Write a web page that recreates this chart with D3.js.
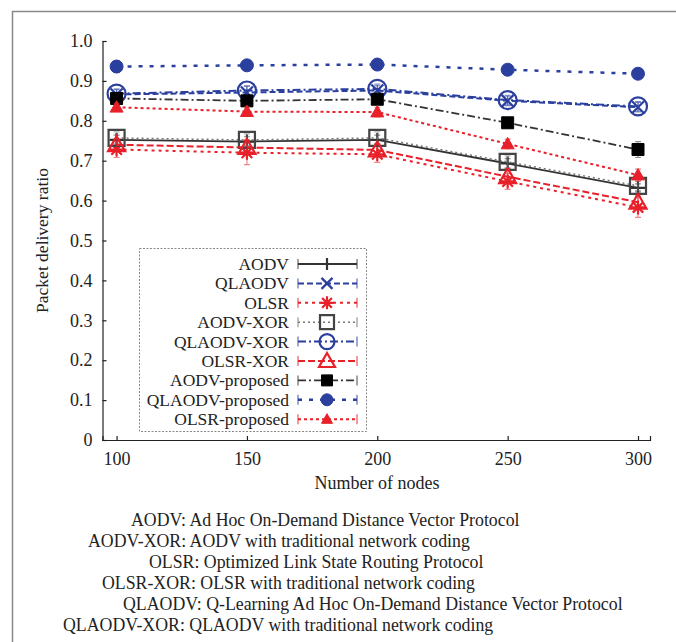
<!DOCTYPE html>
<html>
<head>
<meta charset="utf-8">
<script src="https://cdn.jsdelivr.net/npm/d3@7"></script>
<style>
  body { margin: 0; background: #fff; }
  svg, svg text { font-family: 'Liberation Serif', 'DejaVu Serif', serif; }
  svg text { fill: #222; }
</style>
</head>
<body>
<div id="graf"></div>
<script>
// datos
nodos = [100, 150, 200, 250, 300]
yTicks = [0, 0.1, 0.2, 0.3, 0.4, 0.5, 0.6, 0.7, 0.8, 0.9, 1.0]

aodv        = [0.752, 0.748, 0.752, 0.693, 0.632]
qlaodv      = [0.866, 0.871, 0.876, 0.850, 0.834]
olsr        = [0.728, 0.720, 0.716, 0.648, 0.583]
aodvXor     = [0.757, 0.752, 0.757, 0.697, 0.637]
qlaodvXor   = [0.868, 0.876, 0.880, 0.852, 0.836]
olsrXor     = [0.740, 0.733, 0.727, 0.660, 0.596]
aodvProp    = [0.856, 0.850, 0.854, 0.795, 0.728]
qlaodvProp  = [0.936, 0.939, 0.941, 0.928, 0.918]
olsrProp    = [0.834, 0.823, 0.822, 0.742, 0.664]

// barras de error
errAodv       = [0.012, 0.012, 0.012, 0.012, 0.010]
errQlaodv     = [0.012, 0.015, 0.012, 0.012, 0.012]
errOlsr       = [0.020, 0.030, 0.020, 0.020, 0.025]
errAodvXor    = [0.015, 0.015, 0.015, 0.015, 0.012]
errQlaodvXor  = [0.012, 0.012, 0.012, 0.012, 0.012]
errOlsrXor    = [0.015, 0.020, 0.015, 0.015, 0.015]
errAodvProp   = [0.010, 0.010, 0.010, 0.012, 0.020]
errQlaodvProp = [0.015, 0.010, 0.010, 0.008, 0.008]
errOlsrProp   = [0.010, 0.012, 0.012, 0.012, 0.015]

nombres = ['AODV', 'QLAODV', 'OLSR', 'AODV-XOR', 'QLAODV-XOR', 'OLSR-XOR',
           'AODV-proposed', 'QLAODV-proposed', 'OLSR-proposed']

glosaTerm = ['AODV:', 'AODV-XOR:', 'OLSR:', 'OLSR-XOR:', 'QLAODV:', 'QLAODV-XOR:']
glosaDesc = ['Ad Hoc On-Demand Distance Vector Protocol',
             'AODV with traditional network coding',
             'Optimized Link State Routing Protocol',
             'OLSR with traditional network coding',
             'Q-Learning Ad Hoc On-Demand Distance Vector Protocol',
             'QLAODV with traditional network coding']

// estilos
negro = '#333'
azul = '#2a3f9e'
rojo = '#e8202a'
estilos = {
  'AODV':            { color: negro, dash: null,        ancho: 1.8, marca: 'plus' },
  'QLAODV':          { color: azul,  dash: '6,3',       ancho: 2,   marca: 'x' },
  'OLSR':            { color: rojo,  dash: '3,4',       ancho: 2,   marca: 'asterisk' },
  'AODV-XOR':        { color: '#777', dash: '2,3',      ancho: 1.5, marca: 'square', borde: '#444' },
  'QLAODV-XOR':      { color: azul,  dash: '8,3,2,3',   ancho: 2,   marca: 'circle' },
  'OLSR-XOR':        { color: rojo,  dash: '7,3',       ancho: 2,   marca: 'triangle' },
  'AODV-proposed':   { color: negro, dash: '8,3,2,3',   ancho: 1.8, marca: 'squareF', borde: '#000' },
  'QLAODV-proposed': { color: azul,  dash: '4,7',       ancho: 2.5, marca: 'circleF' },
  'OLSR-proposed':   { color: rojo,  dash: '3,3',       ancho: 2,   marca: 'triangleF' }
}

valores = [aodv, qlaodv, olsr, aodvXor, qlaodvXor, olsrXor, aodvProp, qlaodvProp, olsrProp]
errores = [errAodv, errQlaodv, errOlsr, errAodvXor, errQlaodvXor, errOlsrXor,
           errAodvProp, errQlaodvProp, errOlsrProp]

series = nombres.map((n, i) => ({
  nombre: n,
  puntos: nodos.map((x, j) => ({ x: x, y: valores[i][j], e: errores[i][j] }))
}))

// svg
ancho_total = 676
alto_total = 642
svg = d3.select('#graf').append('svg')
        .attr('width', ancho_total)
        .attr('height', alto_total)

// marco de la figura
svg.append('path')
   .attr('d', `M12.5,${alto_total} V11.5 H${ancho_total}`)
   .attr('fill', 'none')
   .attr('stroke', '#888')
   .attr('stroke-width', 1.5)

// escalas
x = d3.scaleLinear().domain([94.6, 304.6]).range([102.5, 650])
y = d3.scaleLinear().domain([0, 1]).range([440, 41])

// ejes
xAxis = d3.axisBottom(x).tickValues(nodos).tickSizeInner(-4).tickSizeOuter(-4).tickPadding(12)
yAxis = d3.axisLeft(y).tickValues(yTicks).tickSizeInner(-4).tickSizeOuter(-4).tickPadding(10)
        .tickFormat(d => d === 0 ? '0' : d3.format('.1f')(d))

gx = svg.append('g').attr('transform', `translate(0, ${y(0)})`).call(xAxis)
gy = svg.append('g').attr('transform', `translate(${x(94.6)}, 0)`).call(yAxis)
;[gx, gy].forEach(g => {
  g.attr('font-family', null)
  g.selectAll('path, line').attr('stroke', '#222').attr('stroke-width', 1.2)
  g.selectAll('text').style('font-size', '18px').attr('fill', '#222')
})

svg.append('text')
   .attr('x', 377).attr('y', 489)
   .attr('text-anchor', 'middle')
   .style('font-size', '18px')
   .text('Number of nodes')

svg.append('text')
   .attr('transform', `translate(48, ${(y(0) + y(1)) / 2}) rotate(-90)`)
   .attr('text-anchor', 'middle')
   .style('font-size', '17.5px')
   .text('Packet delivery ratio')

// marcadores
function marca(tipo, s) {
  const h = s / 2
  switch (tipo) {
    case 'plus': return `M${-h},0H${h}M0,${-h}V${h}`
    case 'x': return `M${-h},${-h}L${h},${h}M${-h},${h}L${h},${-h}`
    case 'asterisk': return `M${-h},0H${h}M0,${-h}V${h}M${-h * 0.75},${-h * 0.75}L${h * 0.75},${h * 0.75}M${-h * 0.75},${h * 0.75}L${h * 0.75},${-h * 0.75}`
    case 'square': case 'squareF': return `M${-h},${-h}H${h}V${h}H${-h}Z`
    case 'circle': case 'circleF': return `M${h},0A${h},${h} 0 1,1 ${-h},0A${h},${h} 0 1,1 ${h},0Z`
    case 'triangle': case 'triangleF': return `M0,${-h}L${h},${h * 0.75}L${-h},${h * 0.75}Z`
  }
}
tamPlot = { plus: 14, x: 12, asterisk: 14, square: 16, circle: 18, triangle: 17,
            squareF: 12, circleF: 13, triangleF: 13 }
tamLeg = { plus: 12, x: 11, asterisk: 13, square: 14, circle: 15, triangle: 16,
           squareF: 11, circleF: 12, triangleF: 11 }

function dibujaMarca(g, st, s) {
  const relleno = st.marca.endsWith('F')
  const c = st.borde || st.color
  g.append('path')
   .attr('d', marca(st.marca, s))
   .attr('fill', relleno ? c : 'none')
   .attr('stroke', c)
   .attr('stroke-width', relleno ? 1 : 2.2)
}

linea = d3.line().x(d => x(d.x)).y(d => y(d.y))

gSeries = svg.append('g')
series.forEach(s => {
  const st = estilos[s.nombre]
  const g = gSeries.append('g')
  g.append('path')
   .datum(s.puntos)
   .attr('d', linea)
   .attr('fill', 'none')
   .attr('stroke', st.color)
   .attr('stroke-width', st.ancho)
   .attr('stroke-dasharray', st.dash)
  // barras de error
  g.selectAll('.err').data(s.puntos).enter()
   .append('path')
   .attr('d', d => `M${x(d.x) - 3},${y(d.y + d.e)}H${x(d.x) + 3}M${x(d.x)},${y(d.y + d.e)}V${y(d.y - d.e)}M${x(d.x) - 3},${y(d.y - d.e)}H${x(d.x) + 3}`)
   .attr('fill', 'none')
   .attr('stroke', st.color)
   .attr('stroke-opacity', 0.55)
   .attr('stroke-width', 1.2)
  s.puntos.forEach(d => {
    const gm = g.append('g').attr('transform', `translate(${x(d.x)}, ${y(d.y)})`)
    dibujaMarca(gm, st, tamPlot[st.marca])
  })
})

// leyenda
leg = svg.append('g')
leg.append('rect')
   .attr('x', 139.5).attr('y', 248.5)
   .attr('width', 227).attr('height', 183)
   .attr('fill', '#fff')
   .attr('stroke', '#888')
   .attr('stroke-dasharray', '2,1.5')
   .attr('stroke-width', 1)

nombres.forEach((n, i) => {
  const st = estilos[n]
  const yy = 264 + i * 19.4
  leg.append('text')
     .attr('x', 289).attr('y', yy + 6)
     .attr('text-anchor', 'end')
     .style('font-size', '17.5px')
     .text(n)
  leg.append('path')
     .attr('d', `M298,${yy}H357`)
     .attr('stroke', st.color)
     .attr('stroke-width', st.ancho)
     .attr('stroke-dasharray', st.dash)
  leg.append('path')
     .attr('d', `M298,${yy - 5}V${yy + 5}M357,${yy - 5}V${yy + 5}`)
     .attr('stroke', st.color)
     .attr('stroke-opacity', 0.6)
     .attr('stroke-width', 1.5)
  const gm = leg.append('g').attr('transform', `translate(327, ${yy})`)
  dibujaMarca(gm, st, tamLeg[st.marca])
})

// glosario
glosaX = [131, 88, 149, 102, 123, 63]
glosaTerm.forEach((t, i) => {
  const tx = svg.append('text')
     .attr('x', glosaX[i]).attr('y', 526 + i * 21)
     .style('font-size', '17.8px')
  tx.append('tspan').text(t + ' ')
  tx.append('tspan').text(glosaDesc[i])
})
</script>
</body>
</html>
